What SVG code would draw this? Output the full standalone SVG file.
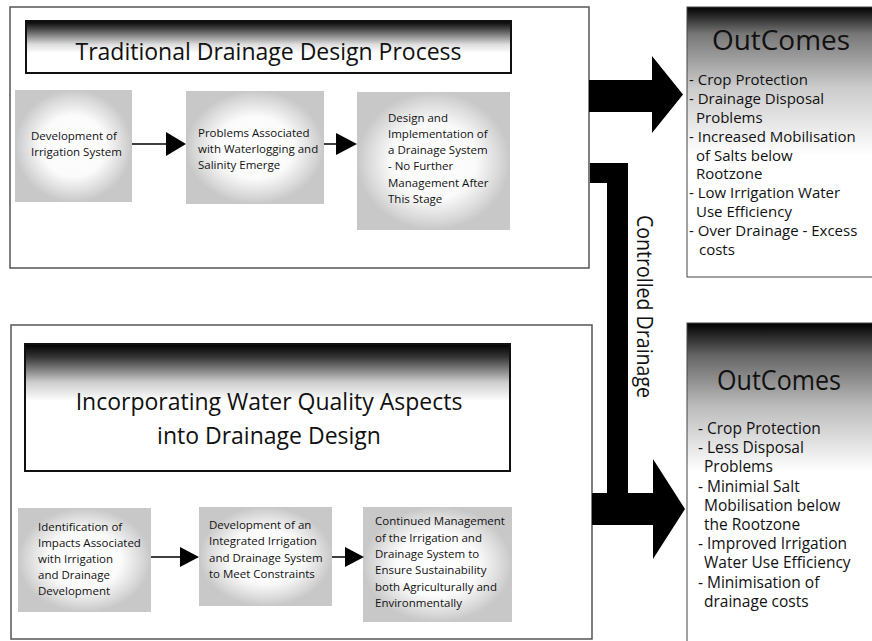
<svg xmlns="http://www.w3.org/2000/svg" width="872" height="641" viewBox="0 0 872 641">
<defs>
<radialGradient id="nodeFill" cx="0.5" cy="0.5" r="0.5">
<stop offset="0" stop-color="#ffffff"/>
<stop offset="0.55" stop-color="#fbfbfb"/>
<stop offset="0.85" stop-color="#dadada"/>
<stop offset="1" stop-color="#c8c8c8"/>
</radialGradient>
<linearGradient id="banner1" x1="0" y1="0" x2="0" y2="1">
<stop offset="0" stop-color="#000"/>
<stop offset="0.15" stop-color="#444"/>
<stop offset="0.45" stop-color="#ddd"/>
<stop offset="0.62" stop-color="#fff"/>
</linearGradient>
<linearGradient id="banner2" x1="0" y1="0" x2="0" y2="1">
<stop offset="0" stop-color="#000"/>
<stop offset="0.1" stop-color="#333"/>
<stop offset="0.3" stop-color="#ccc"/>
<stop offset="0.45" stop-color="#fff"/>
</linearGradient>
<linearGradient id="out1" x1="0" y1="0" x2="0" y2="1">
<stop offset="0" stop-color="#000"/>
<stop offset="0.1" stop-color="#777"/>
<stop offset="0.3" stop-color="#ccc"/>
<stop offset="0.55" stop-color="#fff"/>
</linearGradient>
<linearGradient id="out2" x1="0" y1="0" x2="0" y2="1">
<stop offset="0" stop-color="#000"/>
<stop offset="0.1" stop-color="#666"/>
<stop offset="0.25" stop-color="#bbb"/>
<stop offset="0.45" stop-color="#fff"/>
</linearGradient>
<style>
text{font-family:"Open Sans","Liberation Sans",sans-serif;fill:#111}
.outer{fill:#fff;stroke:#555;stroke-width:1.5}
.banner{stroke:#111;stroke-width:2}
.node{fill:url(#nodeFill)}
.nt{font-size:11.5px;font-weight:500}
.title{font-size:23px;text-anchor:middle}
.oc{font-size:27px}
.ol{font-size:15px;font-weight:500}
.ol2{font-size:15.5px;font-weight:500}
.outbox{stroke:#444;stroke-width:1}
.thin{stroke:#000;stroke-width:1.5;fill:none}
.head{fill:#000}
</style>
</defs>
<rect width="872" height="641" fill="#fff"/>

<g id="traditional-panel">
<rect class="outer" x="10" y="7" width="579" height="261"/>
<rect class="banner" x="26" y="21" width="485" height="52" fill="url(#banner1)"/>
<text class="title" x="268.5" y="60">Traditional Drainage Design Process</text>
</g>

<g id="node-t1">
<rect class="node" x="15" y="90" width="117" height="112"/>
<text class="nt" x="31" y="140">Development of</text>
<text class="nt" x="31" y="156">Irrigation System</text>
</g>
<g id="node-t2">
<rect class="node" x="186" y="91" width="138" height="113"/>
<text class="nt" x="198" y="137">Problems Associated</text>
<text class="nt" x="198" y="153">with Waterlogging and</text>
<text class="nt" x="198" y="169">Salinity Emerge</text>
</g>
<g id="node-t3">
<rect class="node" x="357" y="92" width="153" height="138"/>
<text class="nt" x="388" y="122">Design and</text>
<text class="nt" x="388" y="138">Implementation of</text>
<text class="nt" x="388" y="154">a Drainage System</text>
<text class="nt" x="388" y="170">- No Further</text>
<text class="nt" x="388" y="187">Management After</text>
<text class="nt" x="388" y="203">This Stage</text>
</g>

<g id="quality-panel">
<rect class="outer" x="11" y="325" width="581" height="314"/>
<rect class="banner" x="25" y="344" width="485" height="127" fill="url(#banner2)"/>
<text class="title" x="269" y="410">Incorporating Water Quality Aspects</text>
<text class="title" x="269" y="444">into Drainage Design</text>
</g>

<g id="node-b1">
<rect class="node" x="18" y="508" width="133" height="104"/>
<text class="nt" x="38" y="531">Identification of</text>
<text class="nt" x="38" y="547">Impacts Associated</text>
<text class="nt" x="38" y="563">with Irrigation</text>
<text class="nt" x="38" y="579">and Drainage</text>
<text class="nt" x="38" y="595">Development</text>
</g>
<g id="node-b2">
<rect class="node" x="199" y="507" width="133" height="99"/>
<text class="nt" x="209" y="529">Development of an</text>
<text class="nt" x="209" y="545">Integrated Irrigation</text>
<text class="nt" x="209" y="562">and Drainage System</text>
<text class="nt" x="209" y="578">to Meet Constraints</text>
</g>
<g id="node-b3">
<rect class="node" x="363" y="507" width="149" height="115"/>
<text class="nt" x="375" y="525">Continued Management</text>
<text class="nt" x="375" y="542">of the Irrigation and</text>
<text class="nt" x="375" y="558">Drainage System to</text>
<text class="nt" x="375" y="574">Ensure Sustainability</text>
<text class="nt" x="375" y="591">both Agriculturally and</text>
<text class="nt" x="375" y="607">Environmentally</text>
</g>

<g id="outcomes-1">
<rect class="outbox" x="687" y="7" width="200" height="270" fill="url(#out1)"/>
<text class="oc" x="712" y="50" textLength="138" lengthAdjust="spacingAndGlyphs">OutComes</text>
<text class="ol" x="689" y="85">- Crop Protection</text>
<text class="ol" x="689" y="104">- Drainage Disposal</text>
<text class="ol" x="696" y="123">Problems</text>
<text class="ol" x="689" y="142">- Increased Mobilisation</text>
<text class="ol" x="696" y="161">of Salts below</text>
<text class="ol" x="696" y="179">Rootzone</text>
<text class="ol" x="689" y="198">- Low Irrigation Water</text>
<text class="ol" x="696" y="217">Use Efficiency</text>
<text class="ol" x="689" y="236">- Over Drainage - Excess</text>
<text class="ol" x="699" y="255">costs</text>
</g>

<g id="outcomes-2">
<rect class="outbox" x="687" y="323" width="200" height="330" fill="url(#out2)"/>
<text class="oc" x="717" y="390" textLength="124" lengthAdjust="spacingAndGlyphs">OutComes</text>
<text class="ol2" x="698" y="434">- Crop Protection</text>
<text class="ol2" x="698" y="453">- Less Disposal</text>
<text class="ol2" x="704" y="472">Problems</text>
<text class="ol2" x="698" y="492">- Minimial Salt</text>
<text class="ol2" x="704" y="511">Mobilisation below</text>
<text class="ol2" x="704" y="530">the Rootzone</text>
<text class="ol2" x="698" y="549">- Improved Irrigation</text>
<text class="ol2" x="704" y="568">Water Use Efficiency</text>
<text class="ol2" x="698" y="588">- Minimisation of</text>
<text class="ol2" x="704" y="607">drainage costs</text>
</g>

<g id="connectors">
<line class="thin" x1="132" y1="144" x2="168" y2="144"/>
<polygon class="head" points="166,132 186,144 166,156"/>
<line class="thin" x1="324" y1="144" x2="338" y2="144"/>
<polygon class="head" points="336,133 357,144 336,155"/>
<line class="thin" x1="151" y1="557" x2="182" y2="557"/>
<polygon class="head" points="180,547 199,557 180,567"/>
<line class="thin" x1="332" y1="557" x2="347" y2="557"/>
<polygon class="head" points="345,547 364,557 345,567"/>
<polygon class="head" points="589,80 652,80 652,56 683,94.5 652,133 652,112 589,112"/>
<polygon class="head" points="590,163 628,163 628,493 653,493 653,459 685,509 653,559 653,525 592,525 592,493 607,493 607,183 590,183"/>
<text transform="translate(637,215) rotate(90)" font-size="22" textLength="183" lengthAdjust="spacingAndGlyphs">Controlled Drainage</text>
</g>
</svg>
